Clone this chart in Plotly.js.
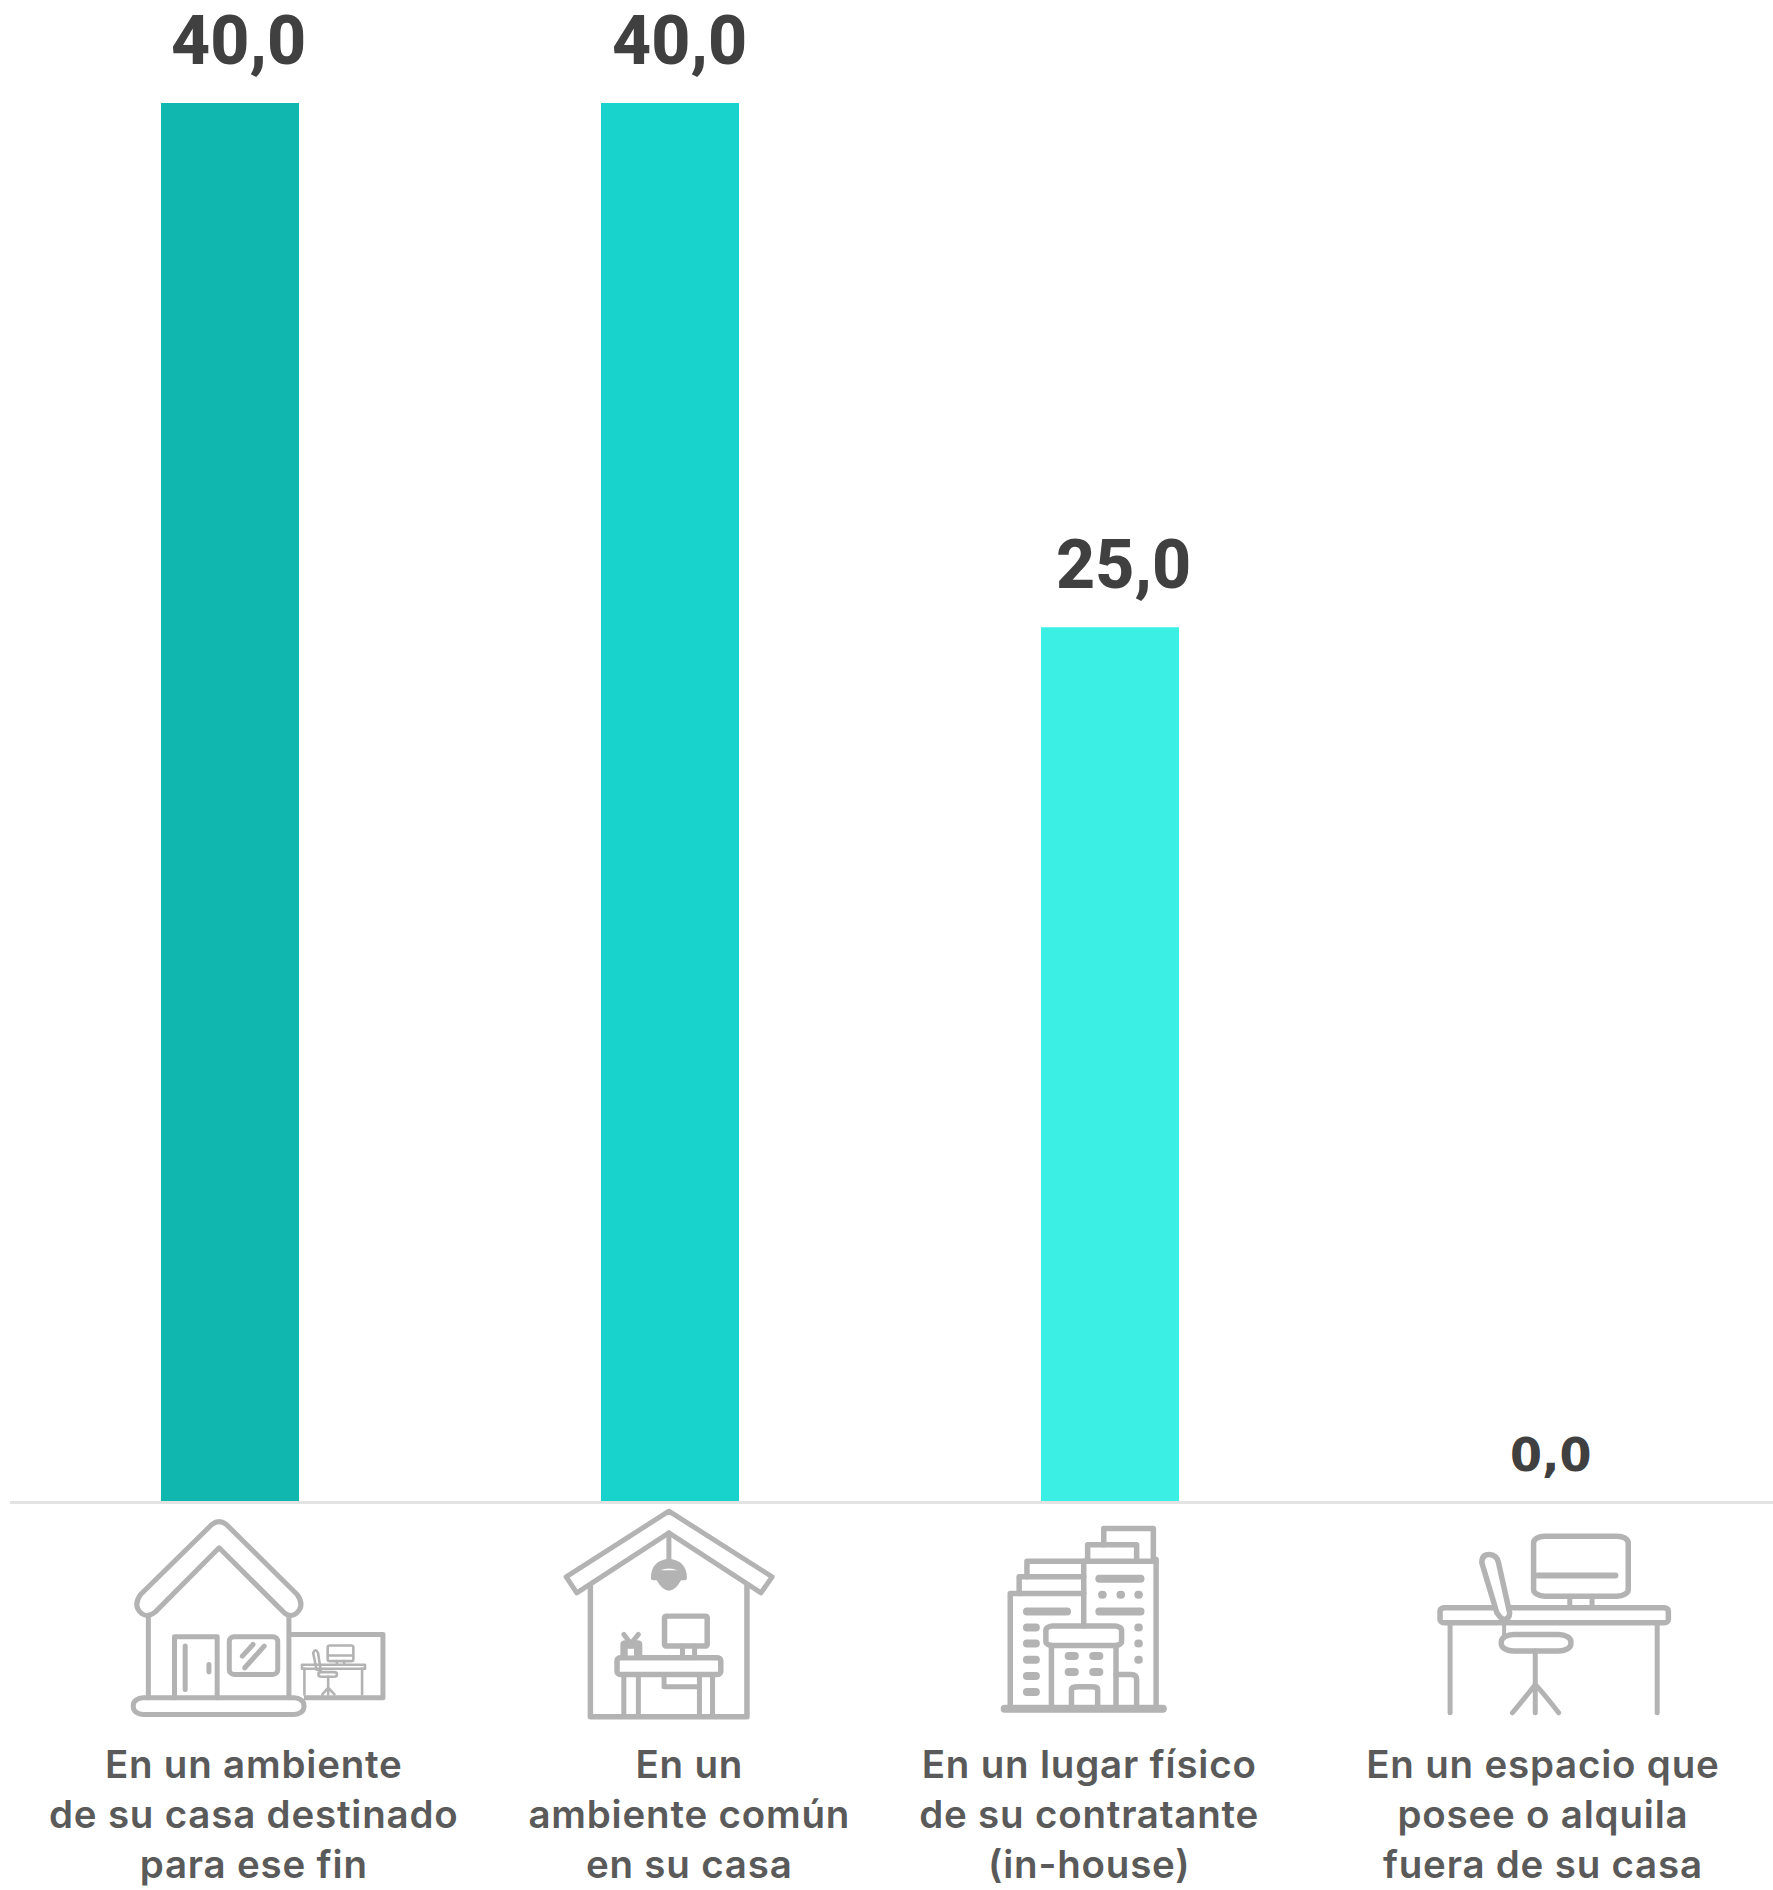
<!DOCTYPE html>
<html>
<head>
<meta charset="utf-8">
<script src="https://cdn.plot.ly/plotly-3.0.1.min.js"></script>
<style>html,body{margin:0;padding:0;background:#fff}
.cat-spaced{letter-spacing:.8px}</style>
</head>
<body>
<div id="chart" style="width:1773px;height:1890px"></div>
<script>
const categories = [
  "En un ambiente<br>de su casa destinado<br>para ese fin",
  "En un<br>ambiente común<br>en su casa",
  "En un lugar físico<br>de su contratante<br>(in-house)",
  "En un espacio que<br>posee o alquila<br>fuera de su casa"
];
const values = [40, 40, 25, 0];
const barColors = ["#10B7AE", "#18D2CC", "#3BEFE5", "#3BEFE5"];
const valueShifts = [8, 9, 13, 1];
const labelShifts = [24, 19, -21, -7];
const valueSizes = [68, 68, 68, 46];
const valueFonts = ["Roboto", "Roboto", "Roboto", "DejaVu Sans"];

const W = 1773, H = 1890, L = 10, R = 0, T = 103, B = 388.5;
const plotW = W - L - R, plotH = H - T - B;
const G = "#b3b3b3";

function svgImage(x, y, w, h, body) {
  const s = `<svg xmlns="http://www.w3.org/2000/svg" width="${w}" height="${h}" viewBox="0 0 1568 1230" preserveAspectRatio="none"><style>*{vector-effect:non-scaling-stroke}</style><g fill="none" stroke="${G}" stroke-width="5" stroke-linejoin="round" stroke-linecap="round">${body}</g></svg>`;
  return {
    source: "data:image/svg+xml;charset=utf-8," + encodeURIComponent(s),
    xref: "paper", yref: "paper",
    x: (x - L) / plotW, y: (H - B - y) / plotH,
    sizex: w / plotW, sizey: h / plotH,
    xanchor: "left", yanchor: "top", sizing: "stretch", layer: "above"
  };
}

const iconsLeft = `
<path d="M272,135 Q287,118 302,135 L448,345 Q465,380 445,403 Q432,415 420,398 L287,205 L155,398 Q140,415 128,403 Q108,380 125,345 Z"/>
<path d="M141,410 V655 M431,410 V655"/>
<rect x="110" y="655" width="352" height="50" rx="20" ry="22"/>
<path d="M195,655 V472 H283 V655"/>
<path d="M217,500 V630 M266,555 V578"/>
<rect x="308" y="472" width="100" height="113" rx="10" ry="14"/>
<path d="M357,495 L335,530 M380,500 L340,565"/>
<path d="M431,465 H625 V655 H462" stroke-linecap="butt"/>
<g stroke-width="2.6">
<rect x="458" y="556" width="130" height="12"/>
<path d="M463,568 V645 M582,568 V645"/>
<rect x="511" y="498" width="53" height="47" rx="5" ry="5"/>
<path d="M513,528 H562 M530,545 V556 M545,545 V556"/>
<path d="M481,520 Q486,505 491,520 L497,575 L488,570 Z"/>
<rect x="492" y="578" width="38" height="14" rx="6" ry="6"/>
<path d="M512,592 V625 L500,645 M512,625 L525,645 M512,625 V645"/>
</g>
<path d="M1215,95 L1428,292 L1405,340 L1215,160 L1025,340 L1003,292 Z"/>
<path d="M1053,320 V712 H1376 V320" stroke-width="5.5"/>
<path d="M1215,160 V250"/>
<path d="M1183,295 Q1183,250 1215,245 Q1247,250 1247,295 Z" fill="${G}"/>
<path d="M1197,272 Q1215,262 1233,272 Z" fill="#fff" stroke="none"/>
<path d="M1195,300 Q1215,352 1235,300 Z" fill="${G}"/>
<rect x="1206" y="410" width="88" height="90" rx="4" ry="4" stroke-width="5.5"/>
<path d="M1243,500 V535 M1268,500 V535"/>
<rect x="1108" y="535" width="214" height="50" rx="8" ry="8" stroke-width="5.5"/>
<path d="M1122,585 V705 M1152,585 V705 M1278,585 V705 M1305,585 V705"/>
<path d="M1205,585 V622 H1278"/>
<rect x="1120" y="490" width="35" height="40" rx="4" ry="4" fill="${G}"/>
<path d="M1122,465 L1135,490 M1152,465 L1138,490"/>
<rect x="1130" y="508" width="13" height="20" fill="#fff" stroke="none"/>
`;

const iconsRight = `
<g stroke-width="5.5">
<path d="M198,680 V342 H330"/>
<path d="M214,342 V292 H330"/>
<path d="M228,292 V245 H460"/>
<path d="M330,440 V245"/>
<path d="M460,680 V240"/>
<path d="M337,245 V196 H425 V245"/>
<path d="M366,196 V147 H455 V240"/>
<rect x="262" y="440" width="136" height="58" rx="12" ry="12"/>
<path d="M272,680 V498 M388,680 V498"/>
<path d="M308,680 V630 Q308,622 320,622 H345 Q355,622 355,630 V680"/>
<path d="M388,585 H415 Q425,585 425,600 V680"/>
</g>
<path d="M188,688 H472" stroke-width="8"/>
<g stroke-width="8">
<path d="M228,396 H300 M228,444 H244 M228,492 H244 M228,541 H244 M228,590 H244 M228,638 H244"/>
<path d="M358,298 H432 M358,396 H432 M363,346 H364 M396,346 H397 M428,346 H429 M428,444 H429 M428,492 H429 M428,541 H429"/>
<path d="M303,530 H314 M347,530 H358 M303,578 H314 M347,578 H358"/>
</g>
<rect x="1138" y="170" width="170" height="180" rx="20" ry="20" stroke-width="5.5"/>
<path d="M1145,288 H1285" stroke-width="6"/>
<path d="M1203,350 V380 M1243,350 V380"/>
<rect x="970" y="385" width="410" height="45" rx="8" ry="8" stroke-width="5.5"/>
<path d="M988,430 V700 M1360,430 V700" stroke-width="5"/>
<path d="M1045,250 Q1045,225 1058,225 Q1072,225 1075,250 L1095,400 Q1095,420 1083,420 Q1078,415 1072,400 Z" fill="#fff" stroke-width="5.5"/>
<path d="M1085,430 V465" stroke-width="4"/>
<rect x="1080" y="465" width="125" height="50" rx="22" ry="22" stroke-width="5.5"/>
<path d="M1141,515 V700 M1141,615 Q1125,650 1100,700 M1141,615 Q1160,650 1183,700" stroke-width="5"/>
`;

const annotations = [];
values.forEach((v, i) => {
  annotations.push({
    x: i, y: v, xref: "x", yref: "y",
    text: v.toFixed(1).replace(".", ","),
    showarrow: false, xanchor: "center", yanchor: "bottom",
    xshift: valueShifts[i], yshift: v === 0 ? 17 : 20,
    font: {family: valueFonts[i] + ", sans-serif", size: valueSizes[i], weight: v === 0 ? 700 : 800, color: "#404040"}
  });
  annotations.push({
    x: i, y: 0, xref: "x", yref: "y",
    text: categories[i],
    showarrow: false, xanchor: "center", yanchor: "middle", align: "center",
    xshift: labelShifts[i], yshift: -(1814 - (H - B)),
    font: {family: "Inter, sans-serif", size: 38.5, weight: 600, color: "#5a5a5a"}
  });
});

Plotly.newPlot("chart", [{
  type: "bar",
  x: [0, 1, 2, 3],
  y: values,
  width: 138 / 440,
  marker: {color: barColors, line: {width: 0}},
  hoverinfo: "skip"
}], {
  width: W, height: H,
  margin: {l: L, r: R, t: T, b: B, pad: 0},
  paper_bgcolor: "#fff", plot_bgcolor: "#fff",
  showlegend: false,
  xaxis: {type: "linear", range: [-0.5, -0.5 + plotW / 440], showgrid: false, zeroline: false, showticklabels: false, ticks: "", showline: true, linecolor: "#e3e3e3", linewidth: 3, fixedrange: true},
  yaxis: {range: [0, 40], showgrid: false, zeroline: false, showticklabels: false, ticks: "", showline: false, fixedrange: true},
  annotations: annotations,
  images: [svgImage(80, 1480, 760, 410, iconsLeft), svgImage(900, 1480, 873, 410, iconsRight)]
}, {displayModeBar: false, staticPlot: true}).then(() => {
  document.querySelectorAll("#chart .annotation-text").forEach(t => {
    if (t.textContent.length > 5) t.classList.add("cat-spaced");
  });
});
</script>
</body>
</html>
